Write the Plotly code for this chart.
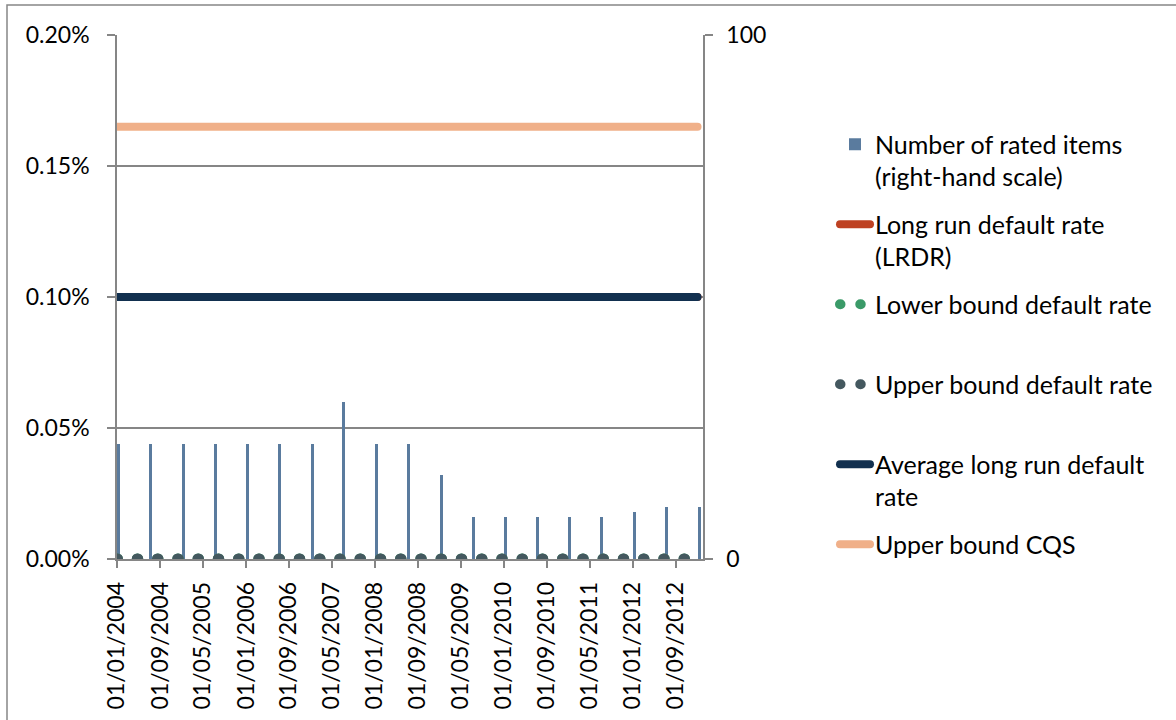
import plotly.graph_objects as go

# ---- data ----
bar_dates = ["2004-01-01", "2004-07-01", "2005-01-01", "2005-07-01", "2006-01-01",
             "2006-07-01", "2007-01-01", "2007-07-01", "2008-01-01", "2008-07-01",
             "2009-01-01", "2009-07-01", "2010-01-01", "2010-07-01", "2011-01-01",
             "2011-07-01", "2012-01-01", "2012-07-01", "2013-01-01"]
rated_items = [22, 22, 22, 22, 22, 22, 22, 30, 22, 22, 16, 8, 8, 8, 8, 8, 9, 10, 10]

lrdr = [0.0010] * 19
lower_bound = [0.0] * 19
upper_bound = [0.0] * 19
avg_lrdr = [0.0010] * 19
upper_cqs = [0.00165] * 19

FONT = "Lato"
GRID = "#868686"
TICK_SIZE = 23
LEG_SIZE = 25

fig = go.Figure()

fig.add_trace(go.Bar(
    x=bar_dates, y=rated_items, yaxis="y",
    name="Number of rated items<br>(right-hand scale)",
    marker=dict(color="#5a7b9e", line=dict(width=0)),
    width=17 * 86400000, offset=0,
    legendgroup="a",
))

line_specs = [
    (lrdr, "Long run default rate<br>(LRDR)", "#be4122", 8, "solid", "b"),
    (lower_bound, "Lower bound default rate<br>\u00a0", "#3a9a68", 11, "0.5px,19.75px", "c"),
    (upper_bound, "Upper bound default rate<br>\u00a0", "#44585f", 11, "0.5px,19.75px", "d"),
    (avg_lrdr, "Average long run default<br>rate", "#12304f", 8, "solid", "e"),
    (upper_cqs, "Upper bound CQS", "#f0b089", 8, "solid", "f"),
]
for vals, name, color, w, dash, grp in line_specs:
    fig.add_trace(go.Scatter(
        x=bar_dates, y=vals, yaxis="y2", mode="lines", name=name,
        line=dict(color=color, width=w, dash=dash),
        legendgroup=grp,
    ))

fig.update_layout(
    width=1176, height=720,
    margin=dict(l=117, r=473, t=35, b=161),
    paper_bgcolor="white", plot_bgcolor="white",
    font=dict(family=FONT, size=TICK_SIZE, color="black"),
    showlegend=True,
    bargap=0,
    xaxis=dict(
        type="date", range=["2004-01-01", "2013-02-01"],
        tick0="2004-01-01", dtick="M8", tickformat="%d/%m/%Y",
        tickangle=-90, ticks="outside", ticklen=7, tickcolor=GRID, tickwidth=1.5,
        showline=True, linecolor=GRID, linewidth=1.5, showgrid=False,
        tickfont=dict(family=FONT, size=TICK_SIZE, color="black"),
        ticklabelstandoff=5,
    ),
    yaxis=dict(
        side="right", range=[0, 100], tickvals=[0, 100],
        ticks="outside", ticklen=8, tickcolor=GRID, tickwidth=1.5,
        showline=True, linecolor=GRID, linewidth=1.5,
        showgrid=False, zeroline=False,
        tickfont=dict(family=FONT, size=TICK_SIZE, color="black"),
        ticklabelstandoff=9,
    ),
    yaxis2=dict(
        overlaying="y", side="left", range=[0, 0.002], dtick=0.0005,
        tickformat=".2%", ticks="outside", ticklen=8, tickcolor=GRID, tickwidth=1.5,
        showline=True, linecolor=GRID, linewidth=1.5,
        showgrid=True, gridcolor=GRID, gridwidth=1.5, zeroline=False,
        tickfont=dict(family=FONT, size=TICK_SIZE, color="black"),
        ticklabelstandoff=13,
    ),
    legend=dict(
        x=(835 - 117) / 586, xanchor="left", y=0.835, yanchor="top",
        valign="top", tracegroupgap=12, traceorder="grouped",
        font=dict(family=FONT, size=LEG_SIZE, color="black"),
        bgcolor="rgba(0,0,0,0)",
    ),
    shapes=[dict(
        type="rect", xref="paper", yref="paper",
        x0=(7 - 117) / 586, x1=(1185 - 117) / 586,
        y0=(559 - 730) / 524, y1=(559 - 5) / 524,
        line=dict(color=GRID, width=1.5), fillcolor="rgba(0,0,0,0)",
    )],
)

post = """
document.body.style.margin = '0';
document.body.style.padding = '0';
var gd = document.getElementById('{plot_id}');
function fixCaps(){
  gd.querySelectorAll('.scatterlayer .js-line, .legendlines path').forEach(function(p){
    p.style.strokeLinecap = 'round';
  });
}
fixCaps();
if (gd.on) { gd.on('plotly_afterplot', fixCaps); }
"""

fig.write_html("out.html", post_script=post, config={"displayModeBar": False})
